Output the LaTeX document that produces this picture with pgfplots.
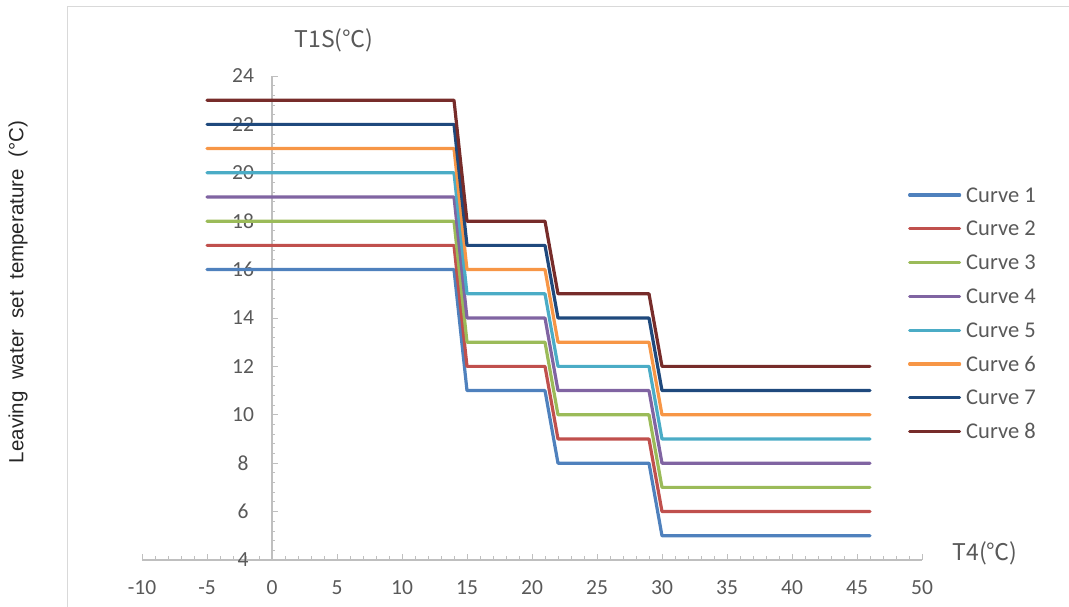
\documentclass[border=0pt]{standalone}
\usepackage{pgfplots}
\pgfplotsset{compat=1.18}
\usepackage{fontspec}
\setmainfont{Carlito}
\newfontfamily\cjk{Noto Sans CJK SC}
\newfontfamily\arial{Liberation Sans}
\definecolor{c1}{HTML}{4F81BD}
\definecolor{c2}{HTML}{C0504D}
\definecolor{c3}{HTML}{9BBB59}
\definecolor{c4}{HTML}{8064A2}
\definecolor{c5}{HTML}{4BACC6}
\definecolor{c6}{HTML}{F79646}
\definecolor{c7}{HTML}{1F497D}
\definecolor{c8}{HTML}{772C2A}
\definecolor{txtgray}{HTML}{595959}
\definecolor{axgray}{HTML}{BFBFBF}
\definecolor{bordergray}{HTML}{D9D9D9}
\begin{document}
\begin{tikzpicture}
\begin{axis}[
  scale only axis, width=780pt, height=484pt,
  xmin=-10, xmax=50, ymin=4, ymax=24,
  axis x line=bottom, axis y line=center,
  axis line style={-, axgray, line width=1.1pt},
  every inner y axis line/.append style={-},
  every outer x axis line/.append style={-},
  xtick={-10,-5,...,50}, ytick={4,6,...,24},
  minor x tick num=4, minor y tick num=4,
  tick align=inside,
  major tick length=6pt, minor tick length=3.5pt,
  tick style={axgray, line width=0.9pt},
  hide obscured y ticks=false, hide obscured x ticks=false,
  /pgf/number format/assume math mode=true,
  ticklabel style={font=\fontsize{21.5}{25}\selectfont, text=txtgray},
  xticklabel style={anchor=center, yshift=-28pt},
  yticklabel style={anchor=center, xshift=-29pt},
  clip=false,
  every axis plot/.append style={line width=3.2pt, line cap=round, line join=round},
  legend image code/.code={\draw[#1,line width=3.2pt,line cap=round] (0pt,0pt) -- (50pt,0pt);},
  legend cell align=left,
  legend style={at={(0.978,0.773)}, anchor=north west, draw=none, fill=none,
    font=\fontsize{22.5}{26}\selectfont, text=txtgray,
    nodes={inner sep=0pt, text height=14pt, text depth=0pt},
    row sep=19.8pt, column sep=5pt},
]
\coordinate (O) at (axis cs:-10,4);
\addplot[c1] coordinates {(-5,16) (14,16) (15,11) (21,11) (22,8) (29,8) (30,5) (46,5)};
\addlegendentry{Curve 1}
\addplot[c2] coordinates {(-5,17) (14,17) (15,12) (21,12) (22,9) (29,9) (30,6) (46,6)};
\addlegendentry{Curve 2}
\addplot[c3] coordinates {(-5,18) (14,18) (15,13) (21,13) (22,10) (29,10) (30,7) (46,7)};
\addlegendentry{Curve 3}
\addplot[c4] coordinates {(-5,19) (14,19) (15,14) (21,14) (22,11) (29,11) (30,8) (46,8)};
\addlegendentry{Curve 4}
\addplot[c5] coordinates {(-5,20) (14,20) (15,15) (21,15) (22,12) (29,12) (30,9) (46,9)};
\addlegendentry{Curve 5}
\addplot[c6] coordinates {(-5,21) (14,21) (15,16) (21,16) (22,13) (29,13) (30,10) (46,10)};
\addlegendentry{Curve 6}
\addplot[c7] coordinates {(-5,22) (14,22) (15,17) (21,17) (22,14) (29,14) (30,11) (46,11)};
\addlegendentry{Curve 7}
\addplot[c8] coordinates {(-5,23) (14,23) (15,18) (21,18) (22,15) (29,15) (30,12) (46,12)};
\addlegendentry{Curve 8}
\end{axis}
\pgfresetboundingbox
\path[use as bounding box] ([shift={(-142pt,-47pt)}]O) rectangle ([shift={(927pt,560pt)}]O);
\draw[bordergray, line width=1pt] ([shift={(-74.5pt,-47pt)}]O) -- ([shift={(-74.5pt,553pt)}]O) -- ([shift={(927pt,553pt)}]O);
\node[rotate=90, font=\arial\fontsize{20.5}{24}\selectfont, text=black!85] at ([shift={(-124pt,268pt)}]O) {Leaving\ \ water\ \ set\ \ temperature\ \ (°C)};
\node[font=\cjk\fontsize{23}{27}\selectfont, text=txtgray] at ([shift={(192pt,520pt)}]O) {T1S(℃)};
\node[font=\cjk\fontsize{23}{27}\selectfont, text=txtgray] at ([shift={(843pt,7pt)}]O) {T4(℃)};
\end{tikzpicture}
\end{document}
